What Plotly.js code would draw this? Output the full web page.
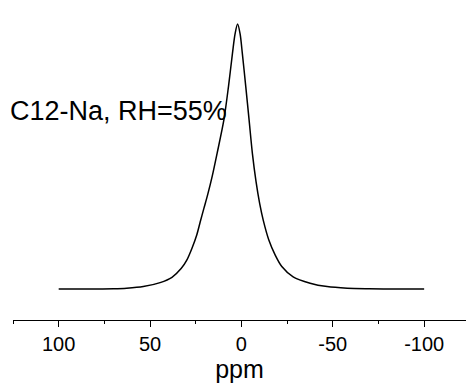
<!DOCTYPE html>
<html>
<head>
<meta charset="utf-8">
<script src="https://cdn.plot.ly/plotly-3.0.1.min.js"></script>
<style>html,body{margin:0;padding:0;background:#fff;}#chart{width:466px;height:385px;}</style>
</head>
<body>
<div id="chart"></div>
<script>
// Chemical shift (ppm) and normalized intensity
const ppm = [100, 80, 70, 62.8, 53.7, 44.5, 38, 33, 29.9, 27, 24.4, 22.6, 20.5, 18.5, 16, 13.3, 9.6, 7.1, 4.9, 3.5, 2.1, 0.7, -0.5, -2.4, -4.2, -6.0, -8.0, -10.0, -12.0, -15.0, -18.5, -22.1, -28.3, -37.6, -46.9, -57.9, -70, -85, -100];
const intensity = [0, 0, 0.001, 0.003, 0.009, 0.024, 0.044, 0.077, 0.109, 0.155, 0.205, 0.252, 0.305, 0.355, 0.425, 0.512, 0.638, 0.763, 0.889, 0.962, 1.0, 0.962, 0.889, 0.763, 0.638, 0.512, 0.405, 0.322, 0.258, 0.185, 0.128, 0.085, 0.046, 0.022, 0.009, 0.003, 0.001, 0, 0];
const tickVals = [100, 50, 0, -50, -100];
const tickText = ["100", "50", "0", "-50", "-100"];
const xTitle = "ppm";
const label = "C12-Na, RH=55%";

const trace = {
  x: ppm, y: intensity, type: 'scatter', mode: 'lines',
  line: {color: '#000', width: 1.5, shape: 'spline', smoothing: 0.8},
  hoverinfo: 'skip'
};

const layout = {
  width: 466, height: 385,
  margin: {l: 13, r: 0, t: 0, b: 65},
  paper_bgcolor: '#fff', plot_bgcolor: '#fff',
  showlegend: false,
  font: {family: 'Liberation Sans, Arial, sans-serif', color: '#000'},
  xaxis: {
    range: [125, -122.9],
    tickmode: 'array', tickvals: tickVals, ticktext: tickText,
    ticks: 'outside', ticklen: 6, tickwidth: 1, tickcolor: '#000',
    minor: {dtick: 25, tick0: 0, ticks: 'outside', ticklen: 3, tickwidth: 1, tickcolor: '#000', showgrid: false},
    showline: true, linecolor: '#000', linewidth: 1,
    showgrid: false, zeroline: false,
    tickfont: {size: 20, family: 'Liberation Sans, Arial, sans-serif'},
    title: {text: xTitle, font: {size: 25, family: 'Liberation Sans, Arial, sans-serif'}, standoff: 0}
  },
  yaxis: {
    range: [-0.117, 1.0906], visible: false, fixedrange: true
  },
  annotations: [{
    text: label, xref: 'paper', yref: 'y', x: -0.012, y: 0.672,
    xanchor: 'left', yanchor: 'middle', showarrow: false,
    font: {size: 27, family: 'Liberation Sans, Arial, sans-serif', color: '#000'}
  }]
};

Plotly.newPlot('chart', [trace], layout, {staticPlot: true, displayModeBar: false});
</script>
</body>
</html>
